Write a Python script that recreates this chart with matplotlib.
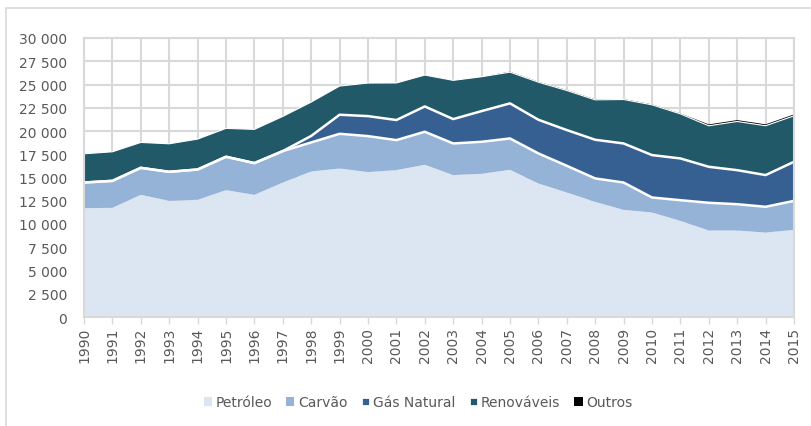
import numpy as np
import matplotlib.pyplot as plt
from matplotlib.patches import Patch, Rectangle
from matplotlib.ticker import FuncFormatter, MultipleLocator

years = list(range(1990, 2016))
petroleo = [11700, 11740, 13140, 12490, 12600, 13640, 13140, 14460, 15650, 15970,
            15580, 15790, 16370, 15260, 15400, 15830, 14360, 13390, 12380, 11520,
            11240, 10340, 9300, 9300, 9080, 9370]
carvao = [2760, 2900, 2900, 3120, 3260, 3590, 3410, 3380, 3120, 3730,
          3870, 3230, 3550, 3400, 3440, 3370, 3230, 2870, 2520, 2940,
          1610, 2220, 2980, 2830, 2770, 3120]
gas_natural = [0, 0, 0, 0, 0, 0, 0, 0, 700, 2050,
               2150, 2160, 2720, 2620, 3300, 3770, 3620, 3840, 4160, 4200,
               4560, 4490, 3870, 3660, 3410, 4200]
renovaveis = [3090, 3125, 2730, 3015, 3270, 3050, 3625, 3730, 3640, 3085,
              3555, 3985, 3375, 4165, 3695, 3360, 4040, 4255, 4290, 4725,
              5405, 4790, 4410, 5235, 5305, 4945]
outros = [0, 0, 0, 0, 0, 0, 0, 0, 0, 0,
          0, 0, 0, 0, 0, 50, 50, 50, 50, 50,
          50, 50, 150, 150, 150, 150]

labels = ['Petróleo', 'Carvão', 'Gás Natural', 'Renováveis', 'Outros']
colors = ['#dce6f2', '#95b3d7', '#376092', '#215968', '#000000']

fig = plt.figure(figsize=(8.11, 4.27), dpi=100)
ax = fig.add_axes([84 / 811, 1 - 318 / 427, 710 / 811, 279 / 427])

series = np.array([petroleo, carvao, gas_natural, renovaveis, outros])
ax.stackplot(years, series, colors=colors, linewidth=0)
cum = np.cumsum(series, axis=0)
ax.plot(years, cum[1], color='white', lw=1.8)
ax.plot(years, cum[2], color='white', lw=1.8)
ax.plot(years, cum[3], color='white', lw=0.8)

ax.set_xlim(1990, 2015)
ax.set_ylim(0, 30000)
ax.yaxis.set_major_locator(MultipleLocator(2500))
ax.yaxis.set_major_formatter(FuncFormatter(lambda v, p: f'{int(v):,}'.replace(',', ' ')))
ax.set_xticks(years)
ax.set_xticklabels([str(y) for y in years], rotation=90)

ax.set_axisbelow(True)
ax.grid(True, color='#d9d9d9', lw=1.5)
for s in ax.spines.values():
    s.set_color('#d9d9d9')
    s.set_linewidth(1.5)
ax.tick_params(axis='y', length=0, pad=12, labelsize=10, labelcolor='#595959')
ax.tick_params(axis='x', length=5, width=1, color='#d9d9d9', pad=2,
               labelsize=10, labelcolor='#595959')

handles = [Patch(facecolor=colors[0], edgecolor='none'),
           Patch(facecolor=colors[1], edgecolor='none'),
           Patch(facecolor=colors[2], edgecolor='white', lw=2),
           Patch(facecolor=colors[3], edgecolor='white', lw=2),
           Patch(facecolor=colors[4], edgecolor='none')]
fig.legend(handles, labels, loc='center', bbox_to_anchor=(418 / 811, 1 - 403 / 427),
           ncol=5, frameon=False, fontsize=10, labelcolor='#595959',
           handlelength=0.6, handleheight=0.6, handletextpad=0.25, columnspacing=1.0)

fig.patches.append(Rectangle((6 / 811, -0.05), 1.0, 1 - 9 / 427 + 0.05,
                             transform=fig.transFigure, fill=False,
                             edgecolor='#d9d9d9', lw=1.2))

fig.savefig('out.png', dpi=100)
